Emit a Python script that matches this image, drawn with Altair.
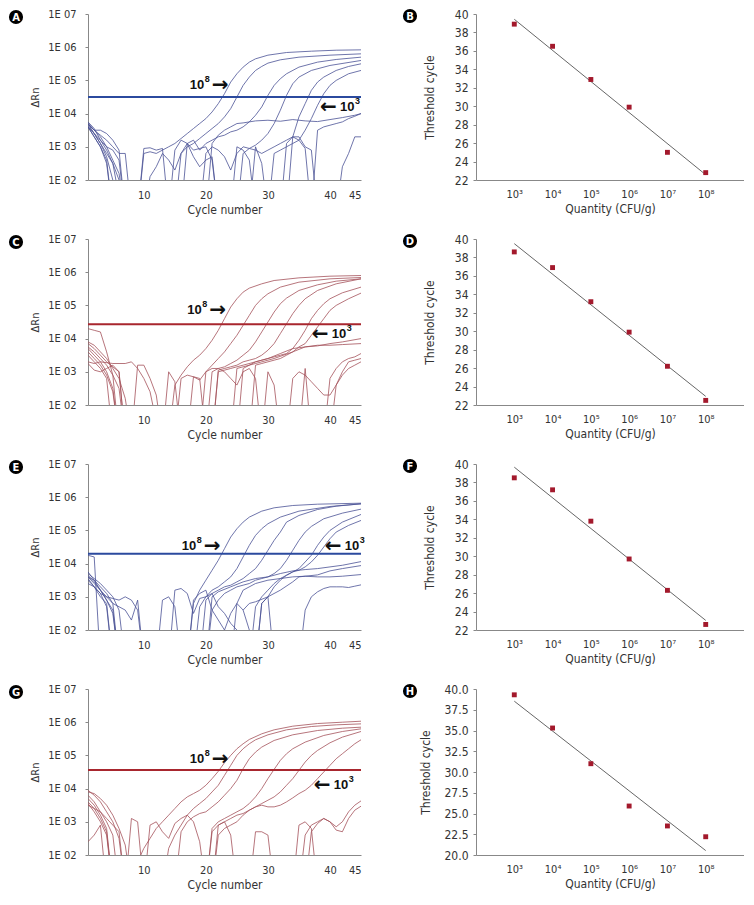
import altair as alt
import pandas as pd

FONT = "'Liberation Sans Narrow', 'DejaVu Sans Condensed', 'Arial Narrow', sans-serif"
ANN_FONT = "'Liberation Sans', Arial, sans-serif"
ARROW_FONT = "'DejaVu Sans', sans-serif"

cycle_ticks = [10, 20, 30, 40, 45]
log_ticks = [2, 3, 4, 5, 6, 7]
quantity_exps = [3, 4, 5, 6, 7, 8]

# ---------------- Ct values (standard curves) ----------------
B_ct = [38.9, 36.5, 32.9, 29.9, 25.0, 22.8]
D_ct = [38.6, 36.9, 33.2, 29.9, 26.2, 22.5]
F_ct = [38.5, 37.2, 33.8, 29.7, 26.3, 22.6]
H_ct = [39.3, 35.3, 31.0, 25.9, 23.5, 22.2]

# ---------------- thresholds (log10 dRn) ----------------
A_threshold = 4.5
C_threshold = 4.43
E_threshold = 4.3
G_threshold = 4.56

# ---------------- annotation anchors (cycle, log10 dRn) ----------------
A_ann8, A_ann3 = (20.8, 4.86), (41.6, 4.21)
C_ann8, C_ann3 = (20.4, 4.86), (40.3, 4.13)
E_ann8, E_ann3 = (19.5, 4.52), (42.4, 4.52)
G_ann8, G_ann3 = (20.8, 4.90), (40.6, 4.12)

# ---------------- amplification curves: (cycle, log10 dRn) ----------------
A_curves = [
    [(1,3.75),(2,3.55),(3,3.2),(4,2.9),(5,2.5),(6,1.5),(9,1.0),(10,2.8),(11,2.85),(12,2.8),(13,2.9),(14,3.0),(15,3.1),(16,3.25),(17,3.4),(18,3.55),(19,3.7),(20,3.85),(21,4.05),(22,4.3),(23,4.6),(24,4.95),(25,5.2),(26,5.4),(27,5.55),(28,5.65),(30,5.76),(33,5.84),(37,5.88),(41,5.91),(45,5.92)],
    [(1,3.7),(2,3.5),(3,3.3),(4,3.0),(5,2.6),(6,2.2),(7,1.0),(15,1.0),(16,2.8),(17,3.0),(18,3.1),(19,3.25),(20,3.4),(21,3.55),(22,3.7),(23,3.9),(24,4.15),(25,4.5),(26,4.85),(27,5.1),(28,5.3),(29,5.42),(30,5.52),(32,5.62),(35,5.7),(40,5.76),(45,5.8)],
    [(1,3.7),(2,3.4),(3,3.1),(4,2.7),(5,2.0),(6,1.0),(16,1.0),(17,3.1),(18,3.2),(19,2.9),(20,3.1),(21,3.2),(22,3.3),(23,3.35),(24,3.45),(25,3.5),(26,3.6),(27,3.75),(28,3.95),(29,4.2),(30,4.55),(31,4.85),(32,5.05),(33,5.2),(35,5.4),(38,5.55),(41,5.63),(45,5.7)],
    [(1,3.6),(2,3.3),(3,3.0),(4,2.6),(5,1.0),(19,1.0),(20,2.8),(21,3.0),(22,2.9),(23,2.7),(24,2.3),(25,2.8),(26,3.0),(27,2.95),(28,3.05),(29,3.2),(30,3.4),(31,3.7),(32,4.1),(33,4.55),(34,4.9),(35,5.1),(37,5.3),(40,5.45),(45,5.6)],
    [(1,3.65),(2,3.4),(3,3.1),(4,2.8),(5,2.5),(6,2.0),(7,1.0),(33,1.0),(34,3.3),(35,3.9),(36,4.3),(37,4.7),(38,4.95),(39,5.1),(41,5.3),(43,5.42),(45,5.5)],
    [(1,3.6),(2,3.3),(3,3.0),(4,2.5),(5,1.0),(30,1.0),(31,2.8),(32,2.9),(33,3.0),(34,3.1),(35,3.2),(36,3.5),(37,3.85),(38,4.25),(39,4.6),(40,4.85),(41,5.0),(43,5.2),(45,5.3)],
    [(1,3.7),(2,3.5),(3,3.5),(4,3.4),(5,3.2),(6,2.9),(7,1.0),(20,1.0),(21,3.1),(22,3.35),(23,3.5),(24,3.6),(25,3.7),(26,3.72),(28,3.78),(30,3.8),(32,3.77),(34,3.82),(36,3.78),(38,3.76),(40,3.82),(42,3.88),(44,3.95),(45,4.0)],
    [(37,1.0),(38,3.5),(39,3.6),(40,3.65),(41,3.7),(42,3.75),(43,3.85),(44,3.92),(45,4.0)],
    [(41,1.0),(42,2.4),(43,2.8),(44,3.3),(45,3.3)],
    [(1,3.7),(2,3.5),(3,3.35),(4,3.2),(5,3.0),(6,2.8),(7,2.8),(8,1.0),(9,1.0),(10,2.95),(11,2.97),(12,2.9),(13,2.95),(14,1.0),(15,2.9),(16,3.2),(17,3.1),(18,2.7),(19,2.4),(20,2.6),(21,2.7),(22,1.0),(24,1.0),(25,3.0),(26,2.9),(27,2.6),(28,1.0)],
    [(1,3.6),(2,3.4),(3,3.2),(4,3.0),(5,2.9),(6,2.6),(7,1.0),(10,1.0),(11,2.1),(12,2.4),(13,2.8),(14,2.6),(15,2.3),(16,2.8),(17,3.1),(18,2.9),(19,2.95),(20,3.0),(21,2.6),(22,1.0),(25,1.0),(26,2.8),(27,2.95),(28,2.9),(29,2.8),(30,2.9),(31,3.0),(32,3.1),(33,3.2),(34,3.3),(35,3.3),(36,3.0),(37,2.9),(38,1.0),(40,1.0)],
    [(27,1.0),(28,3.0),(29,2.5),(30,1.0),(32,1.0),(33,3.1),(34,3.3),(35,3.2),(36,2.95),(37,1.0)],
]

C_curves = [
    [(1,3.9),(2,3.8),(3,3.6),(4,3.4),(5,3.1),(6,2.8),(7,2.2),(8,1.0),(14,1.0),(15,2.6),(16,2.9),(17,3.15),(18,3.35),(19,3.5),(20,3.7),(21,3.95),(22,4.25),(23,4.6),(24,4.95),(25,5.2),(26,5.4),(27,5.52),(29,5.65),(31,5.75),(35,5.83),(40,5.88),(45,5.9)],
    [(1,3.85),(2,3.7),(3,3.5),(4,3.3),(5,3.15),(6,3.0),(7,1.0),(15,1.0),(16,2.8),(17,2.9),(18,2.85),(19,2.75),(20,3.0),(21,3.2),(22,3.4),(23,3.6),(24,3.85),(25,4.1),(26,4.4),(27,4.7),(28,5.0),(29,5.2),(30,5.35),(32,5.55),(35,5.7),(40,5.8),(45,5.84)],
    [(1,3.75),(2,3.6),(3,3.4),(4,3.2),(5,2.9),(6,1.0),(20,1.0),(21,3.0),(22,3.1),(23,3.15),(24,3.25),(25,3.35),(26,3.5),(27,3.65),(28,3.9),(29,4.2),(30,4.5),(31,4.8),(32,5.05),(33,5.22),(35,5.45),(38,5.62),(41,5.73),(45,5.8)],
    [(1,3.7),(2,3.5),(3,3.3),(4,3.0),(5,2.5),(6,1.0),(21,1.0),(22,3.05),(23,3.1),(24,3.15),(25,3.2),(26,3.3),(27,3.35),(28,3.4),(29,3.5),(30,3.65),(31,3.85),(32,4.15),(33,4.45),(34,4.75),(35,5.0),(36,5.2),(38,5.45),(41,5.65),(45,5.8)],
    [(1,3.6),(2,3.4),(3,3.2),(4,2.9),(5,2.4),(6,1.0),(25,1.0),(26,3.1),(27,3.2),(28,3.3),(29,3.35),(30,3.4),(31,3.45),(32,3.5),(33,3.55),(34,3.7),(35,3.95),(36,4.25),(37,4.6),(38,4.85),(39,5.05),(40,5.2),(42,5.38),(45,5.55)],
    [(1,3.5),(2,3.3),(3,3.1),(4,2.8),(5,1.0),(27,1.0),(28,3.2),(29,3.25),(30,3.3),(31,3.35),(32,3.4),(33,3.5),(34,3.6),(35,3.75),(36,3.85),(37,4.1),(38,4.35),(39,4.6),(40,4.85),(41,5.0),(43,5.2),(45,5.37)],
    [(1,4.3),(2,4.25),(3,4.2),(4,3.6),(5,2.9),(6,2.5),(7,1.0)],
    [(1,3.3),(2,3.25),(3,3.3),(5,3.25),(7,3.25),(8,3.3),(9,3.1),(10,2.8),(11,2.4),(12,1.5)],
    [(1,3.25),(2,3.05),(3,3.0),(4,3.1),(5,3.2),(6,3.0),(7,1.0),(13,1.0),(14,3.0),(15,2.7),(16,1.0),(19,1.0),(20,3.0),(21,3.1),(22,3.1),(23,3.0),(24,2.8),(25,2.6),(26,3.0),(27,3.1),(28,2.8),(29,1.0)],
    [(21,1.0),(22,3.0),(24,3.1),(26,3.2),(28,3.3),(30,3.4),(32,3.55),(34,3.7),(36,3.75),(38,3.78),(40,3.85),(42,3.9),(45,4.0)],
    [(24,1.0),(25,3.1),(28,3.25),(31,3.4),(34,3.6),(36,3.75),(38,3.8),(40,3.8),(42,3.82),(45,3.85)],
    [(39,1.0),(40,2.8),(41,3.1),(42,3.3),(43,3.4),(44,3.45),(45,3.55)],
    [(40,1.0),(41,2.6),(42,3.0),(43,3.3),(44,3.35),(45,3.4)],
    [(33,1.0),(34,2.8),(35,3.0),(36,2.9),(37,2.7),(38,2.5),(39,2.3),(40,2.3),(41,2.6),(42,2.9),(43,3.1),(44,3.2),(45,3.3)],
    [(8,1.0),(9,3.2),(10,3.2),(11,2.8),(12,2.3),(13,1.0),(17,1.0),(18,2.85),(19,2.8),(20,1.0),(29,1.0),(30,3.0),(31,2.6),(32,1.0),(35,1.0),(36,3.1),(37,1.0)],
]

E_curves = [
    [(1,3.7),(2,3.55),(3,3.4),(4,3.2),(5,3.0),(6,2.6),(7,1.0),(17,1.0),(18,2.8),(19,3.2),(20,3.5),(21,3.8),(22,4.1),(23,4.45),(24,4.8),(25,5.05),(26,5.25),(27,5.4),(29,5.58),(31,5.68),(34,5.75),(38,5.79),(45,5.82)],
    [(1,3.75),(2,3.5),(3,3.3),(4,3.1),(5,2.8),(6,1.0),(18,1.0),(19,2.7),(20,3.0),(21,3.2),(22,3.3),(23,3.45),(24,3.6),(25,3.85),(26,4.2),(27,4.55),(28,4.85),(29,5.05),(30,5.2),(32,5.4),(35,5.58),(40,5.72),(45,5.8)],
    [(1,3.6),(2,3.4),(3,3.2),(4,2.9),(5,2.5),(6,1.0),(19,1.0),(20,2.9),(21,3.1),(22,3.2),(23,3.3),(24,3.35),(25,3.45),(26,3.55),(27,3.7),(28,3.85),(29,4.1),(30,4.4),(31,4.7),(32,4.95),(33,5.25),(35,5.45),(38,5.63),(41,5.73),(45,5.8)],
    [(1,3.5),(2,3.3),(3,3.1),(4,2.7),(5,1.0),(20,1.0),(21,2.6),(22,2.9),(23,3.1),(24,3.2),(25,3.3),(26,3.35),(27,3.4),(28,3.5),(29,3.55),(30,3.6),(31,3.7),(32,3.85),(33,4.1),(34,4.4),(35,4.7),(36,4.95),(37,5.12),(39,5.35),(42,5.52),(45,5.64)],
    [(1,3.65),(2,3.45),(3,3.2),(4,2.9),(5,2.6),(6,1.0),(27,1.0),(28,2.7),(29,3.0),(30,3.2),(31,3.4),(32,3.55),(33,3.65),(34,3.75),(35,3.85),(36,4.05),(37,4.25),(38,4.55),(39,4.8),(40,5.0),(42,5.25),(45,5.48)],
    [(1,3.55),(2,3.3),(3,3.0),(4,2.8),(5,1.0),(28,1.0),(29,2.8),(30,3.0),(31,3.3),(32,3.5),(33,3.65),(34,3.75),(35,3.8),(36,3.9),(37,4.05),(38,4.25),(39,4.5),(40,4.75),(41,4.95),(43,5.15),(45,5.3)],
    [(20,1.0),(21,3.0),(22,3.15),(24,3.3),(26,3.45),(28,3.55),(30,3.6),(32,3.7),(34,3.78),(36,3.82),(38,3.85),(40,3.9),(42,3.95),(45,4.06)],
    [(24,1.0),(25,2.8),(26,3.2),(28,3.4),(30,3.5),(32,3.55),(34,3.6),(36,3.62),(38,3.66),(40,3.78),(42,3.85),(45,3.94)],
    [(26,2.6),(27,2.8),(28,2.85),(30,3.0),(32,3.2),(34,3.45),(35,3.6),(36,3.62),(38,3.6),(40,3.6),(42,3.62),(45,3.67)],
    [(35,1.0),(36,2.6),(37,3.0),(38,3.15),(39,3.25),(40,3.3),(41,3.3),(42,3.3),(43,3.28),(44,3.32),(45,3.36)],
    [(1,4.25),(2,4.2),(3,1.0)],
    [(1,3.4),(2,3.3),(3,3.1),(4,3.0),(5,2.95),(6,2.9),(7,3.0),(8,2.9),(9,2.6),(10,1.0),(12,1.0),(13,2.9),(14,3.0),(15,2.7),(16,1.0),(17,1.0),(18,2.9),(19,3.1),(20,3.2),(21,2.6),(22,2.3),(23,2.0),(24,2.5),(25,2.8),(26,2.6),(27,2.0),(28,1.0)],
    [(1,3.6),(2,3.5),(3,3.2),(4,3.0),(5,2.8),(6,2.7),(7,2.6),(8,2.3),(9,2.9),(10,1.0),(14,1.0),(15,3.2),(16,3.25),(17,3.1),(18,2.5),(19,2.95),(20,3.0),(21,3.1),(22,2.7),(23,2.5),(24,2.2),(25,2.0),(26,1.0),(28,1.0),(29,2.8),(30,3.0),(31,1.0)],
]

G_curves = [
    [(1,3.9),(2,3.85),(3,3.7),(4,3.5),(5,3.2),(6,2.8),(7,2.3),(8,1.0),(9,1.8),(10,2.2),(11,2.5),(12,2.8),(13,3.0),(14,3.2),(15,3.4),(16,3.6),(17,3.75),(18,3.85),(19,3.95),(20,4.1),(21,4.3),(22,4.52),(23,4.78),(24,5.0),(25,5.2),(26,5.35),(27,5.48),(29,5.65),(31,5.77),(34,5.88),(38,5.96),(42,6.0),(45,6.03)],
    [(1,3.95),(2,3.8),(3,3.6),(4,3.3),(5,3.0),(6,2.5),(7,1.0),(13,1.0),(14,2.2),(15,2.6),(16,2.9),(17,3.2),(18,3.4),(19,3.55),(20,3.7),(21,3.9),(22,4.1),(23,4.4),(24,4.7),(25,5.0),(26,5.2),(27,5.35),(28,5.47),(30,5.62),(33,5.77),(37,5.87),(41,5.92),(45,5.95)],
    [(1,3.8),(2,3.6),(3,3.3),(4,3.0),(5,2.6),(6,1.0),(15,1.0),(16,2.7),(17,3.0),(18,3.15),(19,3.25),(20,3.3),(21,3.45),(22,3.6),(23,3.8),(24,4.0),(25,4.25),(26,4.6),(27,4.9),(28,5.1),(29,5.25),(31,5.45),(34,5.62),(38,5.75),(42,5.82),(45,5.85)],
    [(1,3.7),(2,3.5),(3,3.2),(4,2.8),(5,1.0),(20,1.0),(21,2.8),(22,3.0),(23,3.1),(24,3.2),(25,3.3),(26,3.4),(27,3.55),(28,3.75),(29,4.0),(30,4.3),(31,4.58),(32,4.85),(33,5.05),(34,5.2),(36,5.4),(39,5.6),(42,5.72),(45,5.8)],
    [(1,3.6),(2,3.4),(3,3.1),(4,2.7),(5,1.0),(21,1.0),(22,2.9),(23,3.0),(24,3.1),(25,3.2),(26,3.25),(27,3.35),(28,3.45),(29,3.55),(30,3.65),(31,3.75),(32,3.9),(33,4.1),(34,4.3),(35,4.55),(36,4.8),(37,5.0),(38,5.15),(40,5.38),(42,5.55),(45,5.72)],
    [(1,3.55),(2,3.3),(3,3.0),(4,2.6),(5,1.0),(21,1.0),(22,2.6),(23,2.8),(24,2.9),(25,3.0),(26,3.2),(27,3.35),(28,3.45),(29,3.5),(30,3.45),(31,3.45),(32,3.5),(33,3.6),(34,3.72),(35,3.85),(36,3.95),(37,4.1),(38,4.3),(39,4.5),(40,4.7),(41,4.9),(42,5.05),(43,5.2),(44,5.35),(45,5.47)],
    [(35,1.0),(36,2.6),(37,2.9),(38,3.0),(39,3.1),(40,3.0),(41,2.85),(42,3.0),(43,3.3),(44,3.5),(45,3.63)],
    [(36,1.0),(37,2.7),(38,2.95),(39,3.1),(40,3.0),(41,2.75),(42,2.7),(43,3.1),(44,3.35),(45,3.47)],
    [(1,2.4),(2,2.6),(3,2.9),(4,1.0)],
    [(1,3.5),(2,3.4),(3,3.3),(4,3.1),(5,2.9),(6,2.7),(7,1.0)],
    [(7,1.0),(8,3.1),(9,3.0),(10,1.0),(11,2.9),(12,3.0),(13,2.7),(14,2.5),(15,2.95),(16,3.1),(17,3.2),(18,3.0),(19,2.4),(20,1.0)],
    [(20,1.0),(21,2.7),(22,2.9),(23,3.0),(24,2.6),(25,1.0),(27,1.0),(28,2.7),(29,2.7),(30,2.6),(31,1.0),(34,1.0),(35,2.9),(36,3.0),(37,2.8),(38,1.0)],
]

LEFT_W, LEFT_H = 273, 166
RIGHT_W, RIGHT_H = 268, 166


def badge(letter, dx, dy):
    d = pd.DataFrame({"t": [letter]})
    c = alt.Chart(d).mark_circle(size=200, color="black", opacity=1).encode(
        x=alt.value(dx), y=alt.value(dy))
    t = alt.Chart(d).mark_text(color="white", fontWeight="bold", fontSize=10,
                               font="DejaVu Sans", baseline="middle").encode(
        x=alt.value(dx), y=alt.value(dy + 0.5), text="t:N")
    return [c, t]


def amp_panel(curves, threshold, line_color, thr_color, letter, ann8, ann3):
    rows = []
    for i, c in enumerate(curves):
        for cyc, v in c:
            rows.append({"curve": i, "cycle": cyc, "v": v})
    df = pd.DataFrame(rows)
    x = alt.X("cycle:Q", scale=alt.Scale(domain=[1, 45], nice=False, zero=False),
              axis=alt.Axis(values=cycle_ticks, title="Cycle number", ticks=False,
                            labelPadding=9, titlePadding=4, grid=False, labelOverlap=False,
                            labelFontSize=11, titleFontSize=12))
    y = alt.Y("v:Q", scale=alt.Scale(domain=[2, 7], nice=False, zero=False),
              axis=alt.Axis(values=log_ticks, labelExpr="'1E 0' + datum.value",
                            title="ΔRn", tickSize=3, labelPadding=9, titlePadding=7,
                            grid=False, labelOverlap=False, labelFlush=False,
                            labelFontSize=11, titleFontSize=11))
    lines = alt.Chart(df).mark_line(clip=True, strokeWidth=0.8, color=line_color).encode(
        x=x, y=y, detail="curve:N", order="cycle:Q")
    thr = alt.Chart(pd.DataFrame({"v": [threshold]})).mark_rule(
        color=thr_color, strokeWidth=2).encode(y=y)

    d8 = pd.DataFrame({"cycle": [ann8[0]], "v": [ann8[1]], "base": ["10"], "sup": ["8"], "arrow": ["→"]})
    d3 = pd.DataFrame({"cycle": [ann3[0]], "v": [ann3[1]], "base": ["10"], "sup": ["3"], "arrow": ["←"]})
    common = dict(fontWeight="bold", color="#111", align="left", baseline="middle")
    t8a = alt.Chart(d8).mark_text(fontSize=13, dx=-21, font=ANN_FONT, **common).encode(x=x, y=y, text="base:N")
    t8b = alt.Chart(d8).mark_text(fontSize=9, dx=-6, dy=-6, font=ANN_FONT, **common).encode(x=x, y=y, text="sup:N")
    t8c = alt.Chart(d8).mark_text(fontSize=20, dx=1, dy=0, font=ARROW_FONT, **common).encode(x=x, y=y, text="arrow:N")
    t3c = alt.Chart(d3).mark_text(fontSize=20, dx=-20, dy=0, font=ARROW_FONT, **common).encode(x=x, y=y, text="arrow:N")
    t3a = alt.Chart(d3).mark_text(fontSize=13, dx=0, font=ANN_FONT, **common).encode(x=x, y=y, text="base:N")
    t3b = alt.Chart(d3).mark_text(fontSize=9, dx=15, dy=-6, font=ANN_FONT, **common).encode(x=x, y=y, text="sup:N")
    return alt.layer(lines, thr, t8a, t8b, t8c, t3a, t3b, t3c, *badge(letter, -72, 3)).properties(
        width=LEFT_W, height=LEFT_H)


SUP_EXPR = ("'10' + (datum.value == 3 ? '³' : datum.value == 4 ? '⁴' : datum.value == 5 ? '⁵'"
            " : datum.value == 6 ? '⁶' : datum.value == 7 ? '⁷' : '⁸')")


def std_panel(cts, ydomain, yvalues, yfmt, letter, title_pad):
    df = pd.DataFrame({"exp": quantity_exps, "ct": cts})
    x = alt.X("exp:Q", scale=alt.Scale(domain=[2, 9], nice=False, zero=False),
              axis=alt.Axis(values=quantity_exps, labelExpr=SUP_EXPR, title="Quantity (CFU/g)",
                            ticks=False, labelPadding=8, titlePadding=4, grid=False,
                            labelOverlap=False, labelFontSize=11, titleFontSize=12))
    y = alt.Y("ct:Q", scale=alt.Scale(domain=ydomain, nice=False, zero=False),
              axis=alt.Axis(values=yvalues, format=yfmt, title="Threshold cycle", tickSize=3,
                            labelPadding=5, titlePadding=title_pad, grid=False,
                            labelOverlap=False, labelFlush=False,
                            labelFontSize=12, titleFontSize=12))
    reg = alt.Chart(df).transform_regression("exp", "ct", extent=[3, 8]).mark_line(
        color="#555", strokeWidth=0.9).encode(x=x, y=y)
    pts = alt.Chart(df).mark_square(size=24, color="#a3192c", opacity=1).encode(x=x, y=y)
    return alt.layer(reg, pts, *badge(letter, -66, 2)).properties(
        width=RIGHT_W, height=RIGHT_H)


yt22 = [22, 24, 26, 28, 30, 32, 34, 36, 38, 40]
yt20 = [20, 22.5, 25, 27.5, 30, 32.5, 35, 37.5, 40]

BLUE, BLUE_T = "#4a5296", "#2b4a9e"
RED, RED_T = "#a5525a", "#a8262e"

panels = [
    amp_panel(A_curves, A_threshold, BLUE, BLUE_T, "A", A_ann8, A_ann3),
    std_panel(B_ct, [22, 40], yt22, "d", "B", 18),
    amp_panel(C_curves, C_threshold, RED, RED_T, "C", C_ann8, C_ann3),
    std_panel(D_ct, [22, 40], yt22, "d", "D", 18),
    amp_panel(E_curves, E_threshold, BLUE, BLUE_T, "E", E_ann8, E_ann3),
    std_panel(F_ct, [22, 40], yt22, "d", "F", 18),
    amp_panel(G_curves, G_threshold, RED, RED_T, "G", G_ann8, G_ann3),
    std_panel(H_ct, [20, 40], yt20, ".1f", "H", 11),
]

chart = alt.concat(*panels, columns=2, spacing={"row": 59, "column": 115},
                   bounds="flush").configure_axis(
    labelFont=FONT, titleFont=FONT, labelColor="#333", titleColor="#333",
    titleFontWeight="normal", domainColor="#888", tickColor="#888",
).configure_view(stroke=None).properties(
    background="white", padding={"left": 0, "top": 0, "right": 0, "bottom": 30})

chart.save("out.html", embed_options={"renderer": "svg", "actions": False})
